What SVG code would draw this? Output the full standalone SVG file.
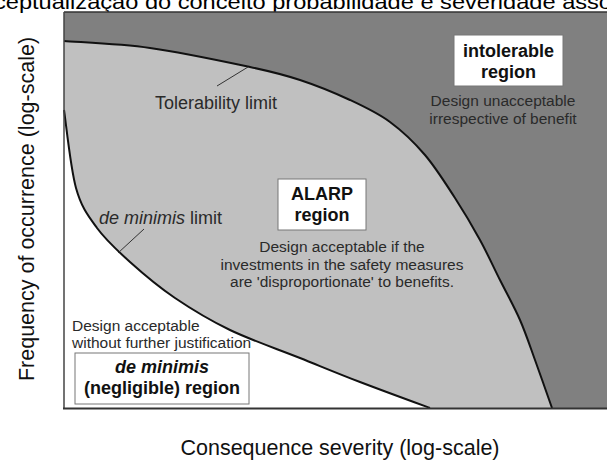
<svg xmlns="http://www.w3.org/2000/svg" width="607" height="460" viewBox="0 0 607 460">
<style>
.t{font-family:"Liberation Sans",Arial,sans-serif;fill:#2a2a2a}
.s{font-size:15.5px}
.m{font-size:18px}
.b{font-weight:bold;fill:#111;font-size:18px}
.box{fill:#fff;stroke:#777;stroke-width:1}
.curve{fill:none;stroke:#111;stroke-width:2}
.lead{stroke:#333;stroke-width:1}
</style>
<rect width="607" height="460" fill="#fff"/>
<text class="t" x="-6" y="9" font-size="21" textLength="618" lengthAdjust="spacingAndGlyphs" style="fill:#000">ceptualização do conceito probabilidade e severidade asso</text>
<g id="regions">
<rect x="64" y="12" width="543" height="396" fill="#808080"/>
<path d="M64,41 C78.3,42.2 119,43.7 150,48 C181,52.3 225,61.7 250,67 C275,72.3 283.3,74.5 300,80 C316.7,85.5 335,93 350,100 C365,107 377.5,112.8 390,122 C402.5,131.2 414.2,142.3 425,155 C435.8,167.7 445.8,183.8 455,198 C464.2,212.2 472.5,226.3 480,240 C487.5,253.7 493.3,266.7 500,280 C506.7,293.3 514.2,306.7 520,320 C525.8,333.3 529.7,345.3 535,360 C540.3,374.7 549.2,400 552,408 L64,408 Z" fill="#c0c0c0"/>
<path d="M64,110 C66,123 70.5,168.3 76,188 C81.5,207.7 88,215.7 97,228 C106,240.3 117,250.3 130,262 C143,273.7 158.3,286.7 175,298 C191.7,309.3 209.2,320 230,330 C250.8,340 278.3,349.3 300,358 C321.7,366.7 338.3,373.7 360,382 C381.7,390.3 418.3,403.7 430,408 L64,408 Z" fill="#fff"/>
</g>
<g id="connectors">
<path class="curve" d="M64,41 C78.3,42.2 119,43.7 150,48 C181,52.3 225,61.7 250,67 C275,72.3 283.3,74.5 300,80 C316.7,85.5 335,93 350,100 C365,107 377.5,112.8 390,122 C402.5,131.2 414.2,142.3 425,155 C435.8,167.7 445.8,183.8 455,198 C464.2,212.2 472.5,226.3 480,240 C487.5,253.7 493.3,266.7 500,280 C506.7,293.3 514.2,306.7 520,320 C525.8,333.3 529.7,345.3 535,360 C540.3,374.7 549.2,400 552,408"/>
<path class="curve" d="M64,110 C66,123 70.5,168.3 76,188 C81.5,207.7 88,215.7 97,228 C106,240.3 117,250.3 130,262 C143,273.7 158.3,286.7 175,298 C191.7,309.3 209.2,320 230,330 C250.8,340 278.3,349.3 300,358 C321.7,366.7 338.3,373.7 360,382 C381.7,390.3 418.3,403.7 430,408"/>
<line class="lead" x1="217" y1="86" x2="248" y2="67"/>
<line class="lead" x1="144" y1="229" x2="118" y2="253"/>
</g>
<g id="frame">
<line x1="64" y1="12" x2="607" y2="12" stroke="#333" stroke-width="1.5"/>
<line x1="64" y1="12" x2="64" y2="408" stroke="#444" stroke-width="1.5"/>
<line x1="63" y1="408.5" x2="607" y2="408.5" stroke="#333" stroke-width="2"/>
</g>
<g id="intolerable">
<rect class="box" x="454" y="35" width="109" height="51"/>
<text class="t b" x="508.5" y="57" text-anchor="middle">intolerable</text>
<text class="t b" x="508.5" y="78" text-anchor="middle">region</text>
<text class="t s" x="503" y="106" text-anchor="middle">Design unacceptable</text>
<text class="t s" x="503" y="124" text-anchor="middle">irrespective of benefit</text>
</g>
<g id="alarp">
<rect class="box" x="278" y="179" width="88" height="51"/>
<text class="t b" x="322" y="200" text-anchor="middle">ALARP</text>
<text class="t b" x="322" y="221" text-anchor="middle">region</text>
<text class="t s" x="342" y="252" text-anchor="middle">Design acceptable if the</text>
<text class="t s" x="342" y="270" text-anchor="middle">investments in the safety measures</text>
<text class="t s" x="342" y="287" text-anchor="middle">are 'disproportionate' to benefits.</text>
</g>
<g id="tolerability">
<text class="t m" x="216" y="109" text-anchor="middle">Tolerability limit</text>
</g>
<g id="deminimis-limit">
<text class="t m" x="99" y="224"><tspan font-style="italic">de minimis</tspan> limit</text>
</g>
<g id="negligible">
<text class="t s" x="72" y="331">Design acceptable</text>
<text class="t s" x="72" y="348">without further justification</text>
<rect class="box" x="75" y="353" width="174" height="51"/>
<text class="t b" x="162" y="373" text-anchor="middle" font-style="italic">de minimis</text>
<text class="t b" x="162" y="394" text-anchor="middle">(negligible) region</text>
</g>
<g id="axes">
<text class="t" x="0" y="0" font-size="21.5" text-anchor="middle" transform="translate(34,209) rotate(-90)" style="fill:#111">Frequency of occurrence (log-scale)</text>
<text class="t" x="340" y="455" font-size="21.5" text-anchor="middle" style="fill:#111">Consequence severity (log-scale)</text>
</g>
</svg>
